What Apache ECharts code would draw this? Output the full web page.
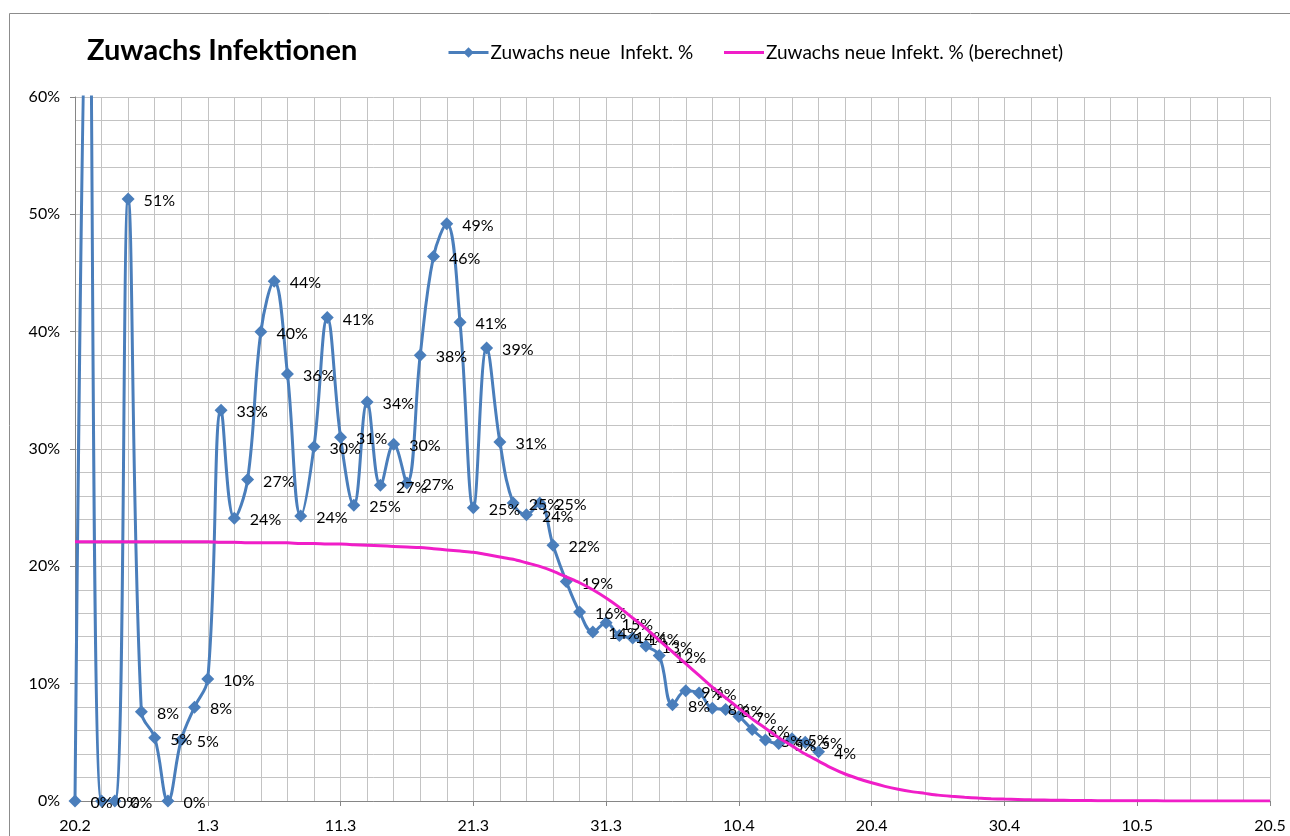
<!DOCTYPE html>
<html>
<head>
<meta charset="utf-8">
<title>Zuwachs Infektionen</title>
<script src="https://cdn.jsdelivr.net/npm/echarts@6/dist/echarts.min.js"></script>
<style>
  html, body { margin: 0; padding: 0; background: #fff; }
  #chart { width: 1290px; height: 836px; }
</style>
</head>
<body>
<div id="chart"></div>
<script>
// Tageskategorien 20.2 – 20.5 (2020, Schaltjahr)
var days = [
  "20.2","21.2","22.2","23.2","24.2","25.2","26.2","27.2","28.2","29.2",
  "1.3","2.3","3.3","4.3","5.3","6.3","7.3","8.3","9.3","10.3",
  "11.3","12.3","13.3","14.3","15.3","16.3","17.3","18.3","19.3","20.3",
  "21.3","22.3","23.3","24.3","25.3","26.3","27.3","28.3","29.3","30.3",
  "31.3","1.4","2.4","3.4","4.4","5.4","6.4","7.4","8.4","9.4",
  "10.4","11.4","12.4","13.4","14.4","15.4","16.4","17.4","18.4","19.4",
  "20.4","21.4","22.4","23.4","24.4","25.4","26.4","27.4","28.4","29.4",
  "30.4","1.5","2.5","3.5","4.5","5.5","6.5","7.5","8.5","9.5",
  "10.5","11.5","12.5","13.5","14.5","15.5","16.5","17.5","18.5","19.5",
  "20.5"
];

// gemessener Zuwachs in % (bis 17.4)
var zuwachs = [
  0, 76, 0, 0, 51.3, 7.6, 5.4, 0, 5.2, 8.0,
  10.4, 33.3, 24.1, 27.4, 40.0, 44.3, 36.4, 24.3, 30.2, 41.2,
  31.0, 25.2, 34.0, 26.9, 30.4, 27.1, 38.0, 46.4, 49.2, 40.8,
  25.0, 38.6, 30.6, 25.4, 24.4, 25.4, 21.8, 18.7, 16.1, 14.4,
  15.2, 14.1, 13.9, 13.2, 12.4, 8.2, 9.4, 9.2, 7.9, 7.8,
  7.2, 6.1, 5.2, 4.9, 5.3, 5.0, 4.2
];

// berechneter Zuwachs in %
var berechnet = [
  22.1, 22.1, 22.1, 22.1, 22.1, 22.1, 22.1, 22.1, 22.1, 22.1,
  22.1, 22.05, 22.05, 22.0, 22.0, 22.0, 22.0, 21.95, 21.95, 21.9,
  21.9, 21.85, 21.8, 21.75, 21.7, 21.65, 21.6, 21.5, 21.4, 21.3,
  21.2, 21.0, 20.8, 20.6, 20.3, 20.0, 19.6, 19.1, 18.6, 18.0,
  17.3, 16.5, 15.6, 14.7, 13.7, 12.7, 11.7, 10.7, 9.7, 8.8,
  7.9, 7.0, 6.2, 5.4, 4.7, 4.0, 3.4, 2.8, 2.3, 1.9,
  1.55, 1.25, 1.0, 0.8, 0.65, 0.5, 0.4, 0.32, 0.25, 0.2,
  0.16, 0.13, 0.1, 0.08, 0.06, 0.05, 0.04, 0.03, 0.03, 0.02,
  0.02, 0.02, 0.01, 0.01, 0.01, 0.01, 0.01, 0.01, 0.01, 0.01,
  0.01
];

var FONT = "Lato, 'Open Sans', sans-serif";
var BLUE = "#4a7ebb", PINK = "#f01ec8";
var chart = echarts.init(document.getElementById("chart"), null, { renderer: "canvas" });

chart.setOption({
  animation: false,
  backgroundColor: "#fff",
  textStyle: { fontFamily: FONT },
  title: {
    text: "Zuwachs Infektionen",
    left: 82, top: 31,
    textStyle: { fontFamily: FONT, fontSize: 29, fontWeight: "bold", color: "#000" }
  },
  legend: [{
    left: 442, top: 38,
    itemWidth: 40, itemHeight: 13,
    lineStyle: { width: 3 },
    textStyle: { fontFamily: FONT, fontSize: 19, color: "#000", padding: [0, 0, 0, -3] },
    data: ["Zuwachs neue  Infekt. %"]
  }, {
    left: 719, top: 38,
    itemWidth: 40, itemHeight: 3,
    icon: "rect",
    textStyle: { fontFamily: FONT, fontSize: 19, color: "#000", padding: [0, 0, 0, -3] },
    data: ["Zuwachs neue Infekt. % (berechnet)"]
  }],
  graphic: [{
    type: "rect", silent: true,
    shape: { x: 9.5, y: 13.5, width: 1300, height: 840 },
    style: { fill: "none", stroke: "#8c8c8c", lineWidth: 1 }
  }],
  grid: { left: 75, right: 20, top: 97, bottom: 35, containLabel: false },
  xAxis: {
    type: "category",
    data: days,
    boundaryGap: false,
    axisLine: { lineStyle: { color: "#868686", width: 1 } },
    axisTick: { show: true, length: 5, interval: function (i) { return i % 10 === 0; }, lineStyle: { color: "#868686" } },
    axisLabel: {
      interval: function (i) { return i % 10 === 0; },
      color: "#000", fontSize: 16, fontFamily: FONT, margin: 17
    },
    splitLine: { show: true, interval: function (i) { return i % 2 === 0; }, lineStyle: { color: "#c3c3c3", width: 1 } }
  },
  yAxis: {
    type: "value",
    min: 0, max: 60, interval: 10,
    axisLine: { show: true, lineStyle: { color: "#868686", width: 1 } },
    axisTick: { show: true, length: 5, lineStyle: { color: "#868686" } },
    axisLabel: { formatter: "{value}%", color: "#000", fontSize: 16, fontFamily: FONT, margin: 15 },
    splitLine: { show: true, lineStyle: { color: "#c3c3c3", width: 1 } },
    minorTick: { show: false, splitNumber: 5 },
    minorSplitLine: { show: true, lineStyle: { color: "#c3c3c3", width: 1 } }
  },
  series: [
    {
      name: "Zuwachs neue  Infekt. %",
      type: "line",
      data: zuwachs,
      smooth: 0.4,
      clip: true,
      symbol: "diamond",
      symbolSize: 13,
      showAllSymbol: true,
      itemStyle: { color: BLUE },
      lineStyle: { color: BLUE, width: 3 },
      label: {
        show: true, position: "right", distance: 9, offset: [0, 2],
        color: "#000", fontSize: 16, fontFamily: FONT,
        formatter: function (p) { return Math.round(p.value) + "%"; }
      },
      z: 2
    },
    {
      name: "Zuwachs neue Infekt. % (berechnet)",
      type: "line",
      data: berechnet,
      smooth: 0.3,
      symbol: "none",
      itemStyle: { color: PINK },
      lineStyle: { color: PINK, width: 3 },
      z: 3
    }
  ]
});
</script>
</body>
</html>
